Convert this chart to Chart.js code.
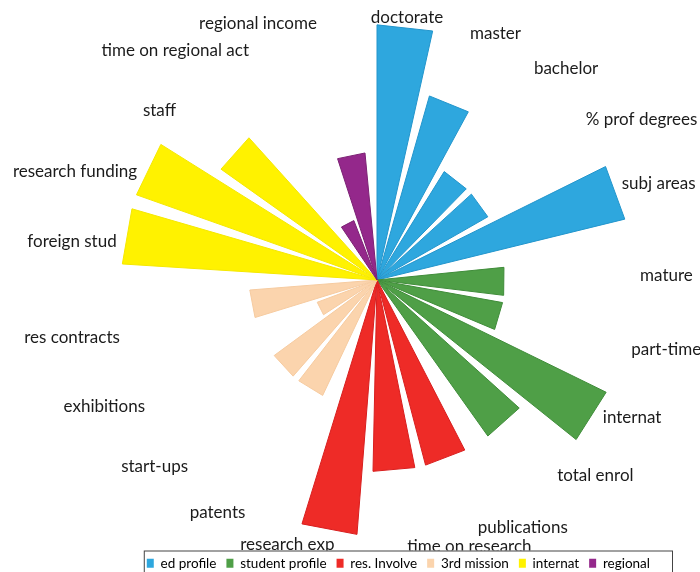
<!DOCTYPE html>
<html>
<head>
<meta charset="utf-8">
<title>Institutional profile</title>
<script src="https://cdn.jsdelivr.net/npm/chart.js@4.4.1/dist/chart.umd.min.js"></script>
<style>
  html, body { margin: 0; padding: 0; background: #fff; }
  canvas { display: block; }
</style>
</head>
<body>
<canvas id="profileChart" width="700" height="572"></canvas>
<script>
const groupNames = ["ed profile", "student profile", "res. Involve", "3rd mission", "internat", "regional"];

const categories = [
    "doctorate", "master", "bachelor", "% prof degrees", "subj areas",
    "mature", "part-time", "internat", "total enrol",
    "publications", "time on research", "research exp",
    "patents", "start-ups", "exhibitions", "res contracts",
    "foreign stud", "research funding", "staff",
    "time on regional act", "regional income"
];
const categoryGroup = [0, 0, 0, 0, 0, 1, 1, 1, 1, 2, 2, 2, 3, 3, 3, 3, 4, 4, 4, 5, 5];
const scores = [4, 3, 2, 2, 4, 2, 2, 4, 3, 3, 3, 4, 2, 2, 1, 2, 4, 4, 3, 1, 2];

// styling
const groupColors = ["#2ea7de", "#4f9f47", "#ee2b27", "#fbd4ad", "#fff200", "#94288b"];
const groupEdges = ["#2295cc", "#3f8c39", "#d81e1e", "#f6cba0", "#f5e800", "#7c2174"];
const WEDGE = 12.6;      // degrees per wedge
const GAP = 3.3;         // gap inside a group
const GROUP_GAP = 8.1;   // gap between groups
const R_MAX = 4.17;

// slices for the chart: wedges with empty spacer slices between them
const sliceLabels = [];
const sliceValues = [];
const sliceAngles = [];
const sliceGroups = [];
categories.forEach((name, i) => {
    if (i > 0) {
        sliceLabels.push("");
        sliceValues.push(0);
        sliceAngles.push(categoryGroup[i] === categoryGroup[i - 1] ? GAP : GROUP_GAP);
        sliceGroups.push(-1);
    }
    sliceLabels.push(name);
    sliceValues.push(scores[i]);
    sliceAngles.push(WEDGE);
    sliceGroups.push(categoryGroup[i]);
});

// category names around the wheel + framed legend background
const spokeLabels = {
    id: "spokeLabels",
    beforeDraw(chart) {
        const ctx = chart.ctx;
        const scale = chart.scales.r;
        const cx = scale.xCenter;
        const cy = scale.yCenter;
        const radius = scale.getDistanceFromCenterForValue(4) + 8;

        ctx.save();
        ctx.font = "17px Lato";
        ctx.fillStyle = "#1b1b1b";
        ctx.textBaseline = "middle";
        chart.getDatasetMeta(0).data.forEach((arc, i) => {
            if (sliceGroups[i] < 0) return;
            const mid = (arc.startAngle + arc.endAngle) / 2 - 1.5 * Math.PI / 180;
            const deg = ((mid * 180 / Math.PI) + 90 + 360) % 360;
            if (deg < 12 || deg > 352) ctx.textAlign = "center";
            else if (deg < 185) ctx.textAlign = "left";
            else ctx.textAlign = "right";
            const x = cx + Math.cos(mid) * radius + (ctx.textAlign === "center" ? 8 : 0);
            const y = cy + Math.sin(mid) * radius + 5 * Math.max(0, Math.sin(mid));
            ctx.fillText(sliceLabels[i], x, y);
        });

        // legend frame (drawn before the legend items)
        const boxes = chart.legend.legendHitBoxes;
        if (boxes && boxes.length) {
            const first = boxes[0];
            const last = boxes[boxes.length - 1];
            const left = first.left - 3;
            const right = last.left + last.width + 22;
            const top = first.top - 6;
            ctx.fillStyle = "#fff";
            ctx.fillRect(left, top, right - left, chart.height - top + 5);
            ctx.strokeStyle = "#444";
            ctx.lineWidth = 1;
            ctx.strokeRect(left + 0.5, top + 0.5, right - left, chart.height - top + 5);
        }
        ctx.restore();
    }
};

new Chart(document.getElementById("profileChart").getContext("2d"), {
    type: "polarArea",
    data: {
        labels: sliceLabels,
        datasets: [{
            data: sliceValues,
            angle: ctx => sliceAngles[ctx.dataIndex],
            circular: false,
            backgroundColor: ctx => sliceGroups[ctx.dataIndex] < 0 ? "rgba(0,0,0,0)" : groupColors[sliceGroups[ctx.dataIndex]],
            borderColor: ctx => sliceGroups[ctx.dataIndex] < 0 ? "rgba(0,0,0,0)" : groupEdges[sliceGroups[ctx.dataIndex]],
            borderWidth: ctx => sliceGroups[ctx.dataIndex] < 0 ? 0 : 1
        }]
    },
    options: {
        responsive: false,
        animation: false,
        layout: { padding: { left: 94, right: 40, top: 14, bottom: -8 } },
        scales: {
            r: {
                min: 0,
                max: R_MAX,
                startAngle: 0,
                ticks: { display: false },
                grid: { display: false },
                angleLines: { display: false },
                pointLabels: { display: false }
            }
        },
        plugins: {
            tooltip: { enabled: false },
            legend: {
                position: "bottom",
                align: "end",
                onClick: null,
                labels: {
                    boxWidth: 7,
                    boxHeight: 9,
                    padding: 10,
                    color: "#333",
                    font: { family: "Lato", size: 13.5 },
                    generateLabels: () => groupNames.map((name, g) => ({
                        text: name,
                        fillStyle: groupColors[g],
                        strokeStyle: groupEdges[g],
                        lineWidth: 0,
                        hidden: false,
                        index: g
                    }))
                }
            }
        }
    },
    plugins: [spokeLabels]
});
</script>
</body>
</html>
